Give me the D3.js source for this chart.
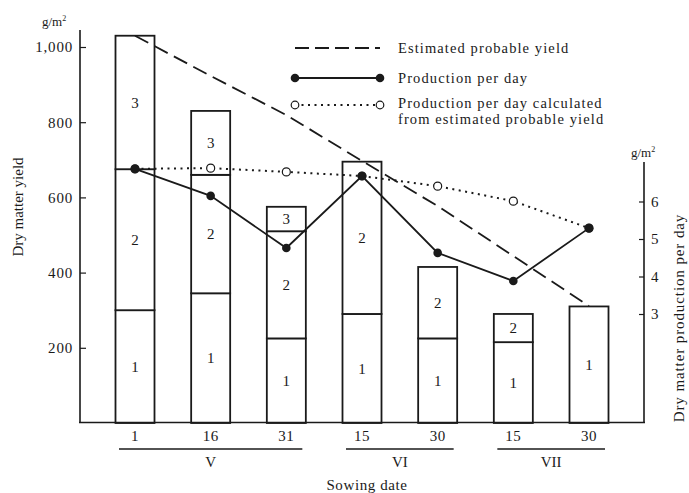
<!DOCTYPE html>
<html><head><meta charset="utf-8">
<script src="https://cdn.jsdelivr.net/npm/d3@7"></script>
<style>
body{margin:0;background:#fff;}
text{font-family:"Liberation Serif","DejaVu Serif",serif;fill:#1a1a1a;}
</style></head>
<body><svg id="c" width="689" height="493"></svg>
<script>
// ---- data ----
const dates = ["1","16","31","15 ","30 ","15  ","30  "];
const dateLabels = ["1","16","31","15","30","15","30"];
const months = ["V","VI","VII"];
const monthSpan = [[0,2],[3,4],[5,6]];
const seg1 = [300,345,225,290,225,215,310];
const seg2 = [375,315,285,405,190,75,0];
const seg3 = [355,170,65,0,0,0,0];
const estimatedYield = [1030,923,819,697,577,444,311];
const prodPerDay = [6.87,6.15,4.76,6.68,4.63,3.88,5.29];
const prodPerDayCalc = [6.87,6.89,6.79,6.68,6.41,6.01,5.29];
const leftTicks = [200,400,600,800,1000];
const rightTicks = [3,4,5,6];

const svg = d3.select("#c");
const ink = "#1a1a1a";
const x = d3.scalePoint().domain(dates).range([135,589]);
const yL = d3.scaleLinear().domain([0,1000]).range([423,47]);
const yR = d3.scaleLinear().domain([0,7]).range([426.5,164]);
const bw = 39;

// bars
const stackData = dates.map((d,i)=>({d, s:[seg1[i],seg2[i],seg3[i]]}));
stackData.forEach((b,i)=>{
  let base = 0;
  b.s.forEach((v,k)=>{
    if(v<=0) return;
    const y0 = yL(base), y1 = yL(base+v);
    svg.append("rect").attr("x",x(b.d)-bw/2).attr("y",y1).attr("width",bw).attr("height",y0-y1)
      .attr("fill","#fff").attr("stroke",ink).attr("stroke-width",1.8);
    svg.append("text").attr("x",x(b.d)).attr("y",(y0+y1)/2).attr("dy","0.35em")
      .attr("text-anchor","middle").attr("font-size",15).text(k+1);
    base += v;
  });
});

// axes
const gL = svg.append("g").attr("transform","translate(80,0)")
  .call(d3.axisRight(yL).tickValues(leftTicks).tickSize(6).tickFormat(d3.format(",")));
gL.select(".domain").remove();
gL.selectAll("line").attr("stroke",ink).attr("stroke-width",1.2);
gL.selectAll("text").attr("x",-7).attr("text-anchor","end").attr("font-size",15).attr("fill",ink)
  .attr("letter-spacing",0.8).style("font-family","'Liberation Serif',serif");
svg.append("line").attr("x1",80).attr("x2",80).attr("y1",30).attr("y2",423).attr("stroke",ink).attr("stroke-width",1.6);

const gR = svg.append("g").attr("transform","translate(644,0)")
  .call(d3.axisLeft(yR).tickValues(rightTicks).tickSize(5).tickFormat(d3.format("d")));
gR.select(".domain").remove();
gR.selectAll("line").attr("stroke",ink).attr("stroke-width",1.2);
gR.selectAll("text").attr("x",7).attr("text-anchor","start").attr("font-size",15).attr("fill",ink)
  .style("font-family","'Liberation Serif',serif");
svg.append("line").attr("x1",644).attr("x2",644).attr("y1",162).attr("y2",423).attr("stroke",ink).attr("stroke-width",1.6);

// baseline
svg.append("line").attr("x1",79).attr("x2",645).attr("y1",422.5).attr("y2",422.5).attr("stroke",ink).attr("stroke-width",1.6);

// x labels
svg.selectAll(".xl").data(dates).join("text").attr("x",d=>x(d)).attr("y",441)
  .attr("text-anchor","middle").attr("font-size",15).attr("letter-spacing",0.5).text((d,i)=>dateLabels[i]);
monthSpan.forEach((s,i)=>{
  const x1 = x(dates[s[0]])-16, x2 = x(dates[s[1]])+16;
  svg.append("line").attr("x1",x1).attr("x2",x2).attr("y1",449).attr("y2",449).attr("stroke",ink).attr("stroke-width",1.5);
  svg.append("text").attr("x",(x1+x2)/2).attr("y",467).attr("text-anchor","middle").attr("font-size",15).text(months[i]);
});
svg.append("text").attr("x",367).attr("y",490).attr("text-anchor","middle").attr("font-size",15).attr("letter-spacing",0.6).text("Sowing date");

// axis titles
svg.append("text").attr("transform","translate(23,207) rotate(-90)").attr("text-anchor","middle").attr("font-size",15).text("Dry matter yield");
svg.append("text").attr("transform","translate(684,318) rotate(-90)").attr("text-anchor","middle").attr("font-size",15).attr("letter-spacing",0.9).text("Dry matter production per day");
svg.append("text").attr("x",42).attr("y",26).attr("font-size",13).html('g/m<tspan dy="-5" font-size="8">2</tspan>');
svg.append("text").attr("x",631).attr("y",157).attr("font-size",13).html('g/m<tspan dy="-5" font-size="8">2</tspan>');

// lines
const lineL = d3.line().x((d,i)=>x(dates[i])).y(d=>yL(d));
const lineR = d3.line().x((d,i)=>x(dates[i])).y(d=>yR(d));
svg.append("path").attr("d",lineL(estimatedYield)).attr("fill","none").attr("stroke",ink)
  .attr("stroke-width",1.8).attr("stroke-dasharray","15,7");
svg.append("path").attr("d",lineR(prodPerDayCalc)).attr("fill","none").attr("stroke",ink)
  .attr("stroke-width",2).attr("stroke-dasharray","2,4.5");
svg.append("path").attr("d",lineR(prodPerDay)).attr("fill","none").attr("stroke",ink).attr("stroke-width",1.8);
svg.selectAll(".oc").data(prodPerDayCalc).join("circle").attr("cx",(d,i)=>x(dates[i])).attr("cy",d=>yR(d))
  .attr("r",4).attr("fill","#fff").attr("stroke",ink).attr("stroke-width",1.2);
svg.selectAll(".fc").data(prodPerDay).join("circle").attr("cx",(d,i)=>x(dates[i])).attr("cy",d=>yR(d))
  .attr("r",4.3).attr("fill",ink);

// legend
const lg = svg.append("g");
const lfs = 14.5, lls = 1.1;
lg.append("line").attr("x1",295).attr("x2",380).attr("y1",48).attr("y2",48).attr("stroke",ink).attr("stroke-width",2).attr("stroke-dasharray","14,6");
lg.append("text").attr("x",398).attr("y",53).attr("font-size",lfs).attr("letter-spacing",lls).text("Estimated probable yield");
lg.append("line").attr("x1",295).attr("x2",380).attr("y1",78).attr("y2",78).attr("stroke",ink).attr("stroke-width",2);
[295,380].forEach(cx=>lg.append("circle").attr("cx",cx).attr("cy",78).attr("r",4.3).attr("fill",ink));
lg.append("text").attr("x",398).attr("y",83).attr("font-size",lfs).attr("letter-spacing",lls).text("Production per day");
lg.append("line").attr("x1",295).attr("x2",380).attr("y1",105).attr("y2",105).attr("stroke",ink).attr("stroke-width",2).attr("stroke-dasharray","2,4.5");
[295,380].forEach(cx=>lg.append("circle").attr("cx",cx).attr("cy",105).attr("r",3.8).attr("fill","#fff").attr("stroke",ink).attr("stroke-width",1.2));
lg.append("text").attr("x",398).attr("y",108).attr("font-size",lfs).attr("letter-spacing",lls).text("Production per day calculated");
lg.append("text").attr("x",398).attr("y",124).attr("font-size",lfs).attr("letter-spacing",lls).text("from estimated probable yield");
</script></body></html>
